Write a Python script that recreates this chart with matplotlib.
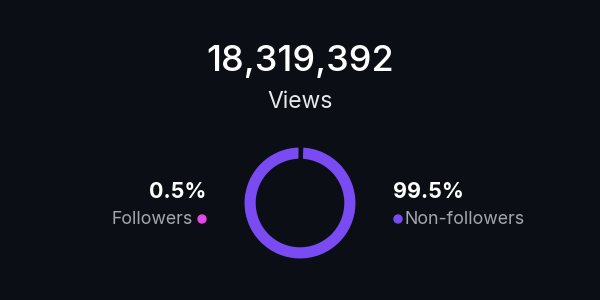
import matplotlib
matplotlib.use('Agg')
from matplotlib import pyplot as plt
from matplotlib.patches import Ellipse

plt.rcParams['font.family'] = ['Inter', 'DejaVu Sans']

bg = '#0b0e15'
purple = '#7a4af2'
pink = '#e448e8'
grey = '#a3a7b0'

total_views = 18319392
labels = ['Followers', 'Non-followers']
shares = [0.5, 99.5]
colors = [pink, purple]

W, H = 600, 300
fig = plt.figure(figsize=(6, 3), dpi=100, facecolor=bg)

def fx(px):
    return px / W

def fy(py):
    return 1 - py / H

def dot(x, y, c, d=8):
    fig.patches.append(Ellipse((fx(x), fy(y)), d / W, d / H, color=c,
                               transform=fig.transFigure, figure=fig))

# headline
fig.text(fx(300), fy(62), f'{total_views:,}', color='white', fontsize=26,
         fontweight='medium', ha='center', va='center')
fig.text(fx(300), fy(102), 'Views', color='#e8e9ec', fontsize=16.5,
         ha='center', va='center')

# donut
cx, cy, r = 300, 203, 57
ax = fig.add_axes([fx(cx - r), fy(cy + r), 2 * r / W, 2 * r / H])
ax.set_facecolor(bg)
ax.pie(shares, colors=colors, startangle=90, counterclock=False,
       radius=1.0, wedgeprops=dict(width=0.25, edgecolor=bg, linewidth=2.2))
ax.set_xlim(-1, 1)
ax.set_ylim(-1, 1)
ax.set_aspect('equal')
ax.axis('off')

# left label (followers)
fig.text(fx(206), fy(192), f'{shares[0]}%', color='white', fontsize=15.5,
         fontweight='bold', ha='right', va='center')
fig.text(fx(193), fy(219), labels[0], color=grey, fontsize=12.8,
         ha='right', va='center')
dot(202, 219, pink)

# right label (non-followers)
fig.text(fx(393), fy(192), f'{shares[1]}%', color='white', fontsize=15.5,
         fontweight='bold', ha='left', va='center')
fig.text(fx(405), fy(219), labels[1], color=grey, fontsize=12.8,
         ha='left', va='center')
dot(398, 219, purple)

fig.savefig('out.png', dpi=100, facecolor=bg)
